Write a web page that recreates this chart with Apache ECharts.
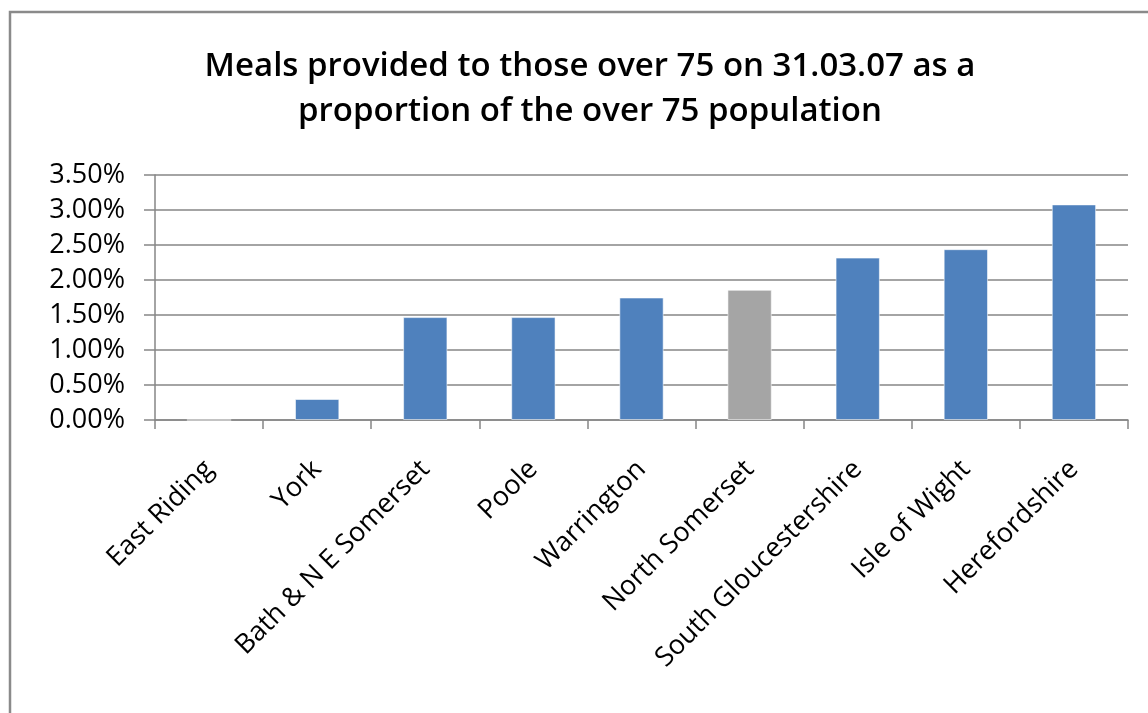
<!DOCTYPE html>
<html>
<head>
<meta charset="utf-8">
<script src="https://cdn.jsdelivr.net/npm/echarts@6/dist/echarts.min.js"></script>
<style>
  html, body { margin: 0; padding: 0; background: #fff; }
  #chart { width: 1148px; height: 713px; }
</style>
</head>
<body>
<div id="chart"></div>
<script>
var categories = ['East Riding', 'York', 'Bath & N E Somerset', 'Poole', 'Warrington', 'North Somerset', 'South Gloucestershire', 'Isle of Wight', 'Herefordshire'];
var values = [0, 0.30, 1.47, 1.47, 1.75, 1.86, 2.32, 2.44, 3.08];
var yTicks = [0, 0.5, 1.0, 1.5, 2.0, 2.5, 3.0, 3.5];
var highlighted = 'North Somerset';
var titleText = 'Meals provided to those over 75 on 31.03.07 as a\nproportion of the over 75 population';

var FONT = 'Open Sans';
var chart = echarts.init(document.getElementById('chart'), null, { renderer: 'canvas' });

chart.setOption({
  animation: false,
  backgroundColor: '#fff',
  graphic: [{
    type: 'rect',
    shape: { x: 10, y: 12, width: 1300, height: 900 },
    style: { fill: 'none', stroke: '#8a8a8a', lineWidth: 2.5 },
    silent: true
  }],
  title: {
    text: titleText,
    left: 585,
    textAlign: 'center',
    top: 39,
    textStyle: {
      fontFamily: FONT,
      fontSize: 33,
      fontWeight: 600,
      color: '#000',
      lineHeight: 45
    }
  },
  grid: { left: 155, right: 20, top: 175, bottom: 293, containLabel: false },
  xAxis: {
    type: 'category',
    data: categories,
    axisLine: { lineStyle: { color: '#868686', width: 1.5 } },
    axisTick: { show: true, alignWithLabel: false, length: 9, lineStyle: { color: '#868686', width: 1.5 } },
    axisLabel: {
      interval: 0,
      rotate: 45,
      margin: 45,
      fontFamily: FONT,
      fontSize: 27,
      color: '#000'
    }
  },
  yAxis: {
    type: 'value',
    min: yTicks[0],
    max: yTicks[yTicks.length - 1],
    interval: yTicks[1] - yTicks[0],
    axisLine: { show: true, lineStyle: { color: '#868686', width: 1.5 } },
    axisTick: { show: true, length: 11, lineStyle: { color: '#868686', width: 1.5 } },
    splitLine: { show: true, lineStyle: { color: '#868686', width: 1.5 } },
    axisLabel: {
      margin: 30,
      fontFamily: FONT,
      fontSize: 27,
      color: '#000',
      formatter: function (v) { return v.toFixed(2) + '%'; }
    }
  },
  series: [{
    type: 'bar',
    barWidth: '41%',
    data: categories.map(function (c, i) {
      return {
        value: values[i],
        itemStyle: { color: c === highlighted ? '#A5A5A5' : '#4F81BD' }
      };
    }),
    itemStyle: { borderColor: 'rgba(255,255,255,0.55)', borderWidth: 1 }
  }]
});
</script>
</body>
</html>
